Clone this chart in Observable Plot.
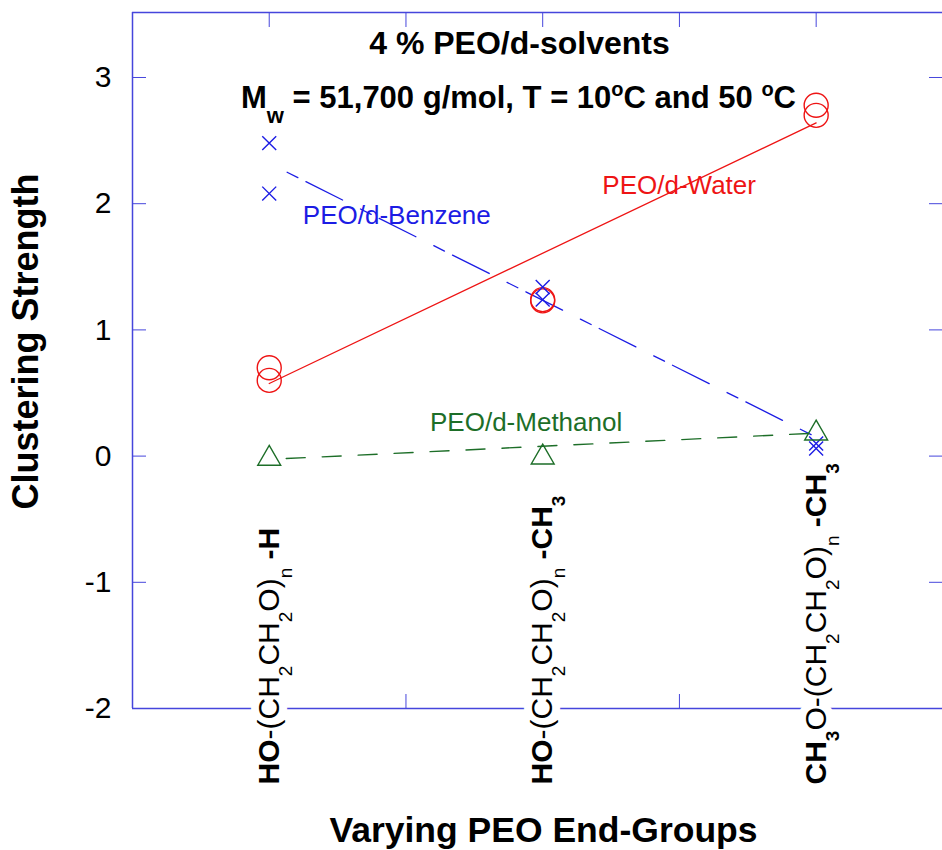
<!DOCTYPE html>
<html><head><meta charset="utf-8">
<script src="https://cdn.jsdelivr.net/npm/d3@7"></script>
<script src="https://cdn.jsdelivr.net/npm/@observablehq/plot@0.6"></script>
<style>body{margin:0;background:#fff;} #chart svg{display:block;}</style>
</head><body><div id="chart"></div>
<script>
// ---- categories / ticks ----
const groups = [1, 2, 3];
const groupLabels = ["HO-(CH2CH2O)n -H", "HO-(CH2CH2O)n -CH3", "CH3O-(CH2CH2O)n -CH3"];
const groupLabelParts = [
  [["HO","b"],["-(CH",""],["2","s"],["CH",""],["2","s"],["O)",""],["n","s"],[" -H","b"]],
  [["HO","b"],["-(CH",""],["2","s"],["CH",""],["2","s"],["O)",""],["n","s"],[" -CH","b"],["3","sb"]],
  [["CH","b"],["3","sb"],["O-(CH",""],["2","s"],["CH",""],["2","s"],["O)",""],["n","s"],[" -CH","b"],["3","sb"]]
];
const xDomain = [0.5, 3.462];
const yDomain = [-2, 3.515];
const yTicks = [-2, -1, 0, 1, 2, 3];
const xMinorTicks = [1, 1.5, 2, 2.5, 3];

// ---- series values (two measurements per end-group) ----
const waterA = [0.70, 1.24, 2.78];
const waterB = [0.60, 1.23, 2.70];
const benzeneA = [2.48, 1.34, 0.10];
const benzeneB = [2.08, 1.24, 0.06];
const methanol = [-0.02, -0.01, 0.18];

// ---- fitted lines (read at end-groups 1 and 3) ----
const fitX = [1, 3];
const waterFit = [0.575, 2.64];
const benzeneFit = [2.32, 0.15];
const methanolFit = [-0.026, 0.182];

// ---- texts ----
const seriesNames = ["PEO/d-Benzene", "PEO/d-Water", "PEO/d-Methanol"];
const seriesLabelX = [1.123, 2.218, 1.588];
const seriesLabelY = [1.907, 2.145, 0.264];
const title1 = "4 % PEO/d-solvents";
const title2 = "Mw = 51,700 g/mol, T = 10oC and 50 oC";
const title2Parts = [["M",""],["w","sub"],[" = 51,700 g/mol, T = 10",""],["o","sup"],["C and 50 ",""],["o","sup"],["C",""]];
const yTitle = "Clustering Strength";
const xTitle = "Varying PEO End-Groups";

const frameColor = "#4646dc";
const blue = "#1c1ce4", red = "#ee1414", green = "#1d6e28";

const pts = arr => groups.map((g, i) => ({x: g, y: arr[i]}));
const line = arr => fitX.map((g, i) => ({x: g, y: arr[i]}));
const waterPts = [...pts(waterA), ...pts(waterB)];
const benzenePts = [...pts(benzeneA), ...pts(benzeneB)];
const methanolPts = pts(methanol);
const seriesLabels = seriesNames.map((n, i) => ({name: n, x: seriesLabelX[i], y: seriesLabelY[i], c: [blue, red, green][i]}));

const groupTextOpts = {x: d => d, text: (d, i) => groupLabels[i], frameAnchor: "bottom", dy: 76, rotate: -90,
  textAnchor: "start", lineAnchor: "middle", fontSize: 30};

const chart = Plot.plot({
  width: 942, height: 850,
  marginLeft: 132, marginRight: 0, marginTop: 12, marginBottom: 142,
  style: {fontFamily: "'Liberation Sans', Arial, sans-serif", background: "white", color: "black"},
  x: {domain: xDomain},
  y: {domain: yDomain},
  marks: [
    Plot.ruleY(yDomain, {stroke: frameColor, strokeWidth: 1.5}),
    Plot.ruleX([xDomain[0]], {stroke: frameColor, strokeWidth: 1.5}),
    Plot.axisY({ticks: yTicks, anchor: "left", tickSize: -14, tickFormat: () => "", stroke: frameColor, label: null}),
    Plot.axisY({ticks: yTicks, anchor: "right", tickSize: -14, tickFormat: () => "", stroke: frameColor, label: null}),
    Plot.axisY({ticks: yTicks, anchor: "left", tickSize: 0, tickPadding: 21, fontSize: 30, label: null, fill: "black", tickFormat: d => String(d)}),
    Plot.axisX({ticks: xMinorTicks, anchor: "top", tickSize: -14, tickFormat: () => "", stroke: frameColor, label: null}),
    Plot.axisX({ticks: xMinorTicks, anchor: "bottom", tickSize: -14, tickFormat: () => "", stroke: frameColor, label: null}),
    // white halo behind the end-group labels (breaks the bottom axis line)
    Plot.text(groups, {...groupTextOpts, fill: "white", stroke: "white", strokeWidth: 16, strokeLinejoin: "round"}),
    Plot.text(groups, {...groupTextOpts, fill: "black"}),
    Plot.text([yTitle], {frameAnchor: "left", dx: -106, dy: -19, rotate: -90, fontSize: 36, fontWeight: "bold", textAnchor: "middle", lineAnchor: "middle"}),
    Plot.text([xTitle], {frameAnchor: "bottom", dx: 6, dy: 122, fontSize: 35.5, fontWeight: "bold", lineAnchor: "middle"}),
    Plot.text([title1], {frameAnchor: "top", dx: -18, dy: 31, fontSize: 32, fontWeight: "bold", lineAnchor: "middle"}),
    Plot.text([title2], {frameAnchor: "top", dx: -19, dy: 86, fontSize: 31, fontWeight: "bold", lineAnchor: "middle"}),
    Plot.line(line(waterFit), {x: "x", y: "y", stroke: red, strokeWidth: 1.3}),
    Plot.line(line(benzeneFit), {x: "x", y: "y", stroke: blue, strokeWidth: 1.3, strokeDasharray: "41,20,12,9", strokeDashoffset: 41}),
    Plot.line(line(methanolFit), {x: "x", y: "y", stroke: green, strokeWidth: 1.4, strokeDasharray: "19,17", strokeDashoffset: 19}),
    Plot.dot(waterPts, {x: "x", y: "y", r: 12, stroke: red, strokeWidth: 1.4}),
    Plot.dot(benzenePts, {x: "x", y: "y", r: 6.4, symbol: "times", stroke: blue, strokeWidth: 1.4}),
    Plot.dot(methanolPts, {x: "x", y: "y", r: 8.5, symbol: "triangle", stroke: green, strokeWidth: 1.4}),
    Plot.text(seriesLabels, {x: "x", y: "y", text: "name", fill: "c", textAnchor: "start", lineAnchor: "middle", fontSize: 26})
  ]
});
document.getElementById("chart").appendChild(chart);

// rich text (sub/superscripts, mixed weights)
const rich = new Map();
groupLabels.forEach((l, i) => rich.set(l, {parts: groupLabelParts[i], sub: [19, 13], sup: [19, -11]}));
rich.set(title2, {parts: title2Parts, sub: [22, 15], sup: [20, -12]});
d3.select(chart).selectAll("text").each(function() {
  const r = rich.get(this.textContent);
  if (!r) return;
  const el = d3.select(this);
  el.text(null);
  let cur = 0;
  for (const [txt, kind] of r.parts) {
    const ts = el.append("tspan").text(txt);
    let shift = 0;
    if (kind.startsWith("s") && kind !== "sup") { shift = r.sub[1]; ts.attr("font-size", r.sub[0]); }
    if (kind === "sup") { shift = r.sup[1]; ts.attr("font-size", r.sup[0]); }
    if (kind.includes("b")) ts.attr("font-weight", "bold");
    if (shift !== cur) ts.attr("dy", shift - cur);
    cur = shift;
  }
});
</script>
</body></html>
